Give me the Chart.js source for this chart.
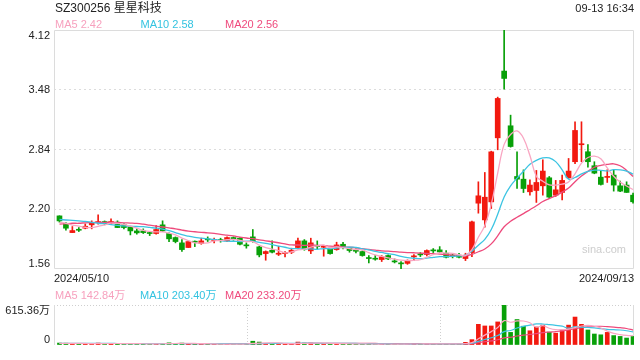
<!DOCTYPE html>
<html><head><meta charset="utf-8">
<script src="https://cdn.jsdelivr.net/npm/chart.js@4/dist/chart.umd.min.js"></script>
<style>
html,body{margin:0;padding:0;background:#fff;width:640px;height:360px;overflow:hidden;font-family:"Liberation Sans",Arial,"Noto Sans CJK SC",sans-serif;}
canvas{position:absolute;left:0;}
.t{position:absolute;white-space:nowrap;font-size:11px;line-height:14px;}
</style></head><body>
<canvas id="k" width="640" height="285" style="top:0;width:640px;height:285px"></canvas>
<canvas id="v" width="640" height="75" style="top:285px;width:640px;height:75px"></canvas>
<div class="t" style="left:55px;top:1px;font-size:12px;color:#222">SZ300256 星星科技</div>
<div class="t" style="right:6px;top:1px;color:#222">09-13 16:34</div>
<div class="t" style="left:55px;top:17px;color:#f7a1be">MA5 2.42</div>
<div class="t" style="left:140.5px;top:17px;color:#33c3e0">MA10 2.58</div>
<div class="t" style="left:225px;top:17px;color:#ef4a7d">MA20 2.56</div>
<div class="t" style="left:55px;top:288px;color:#f7a1be">MA5 142.84万</div>
<div class="t" style="left:140px;top:288px;color:#33c3e0">MA10 203.40万</div>
<div class="t" style="left:225px;top:288px;color:#ef4a7d">MA20 233.20万</div>
<div class="t" style="left:582px;top:242px;color:#cdcdcd">sina.com</div>
<script>
// ---- data (trading days 2024/05/10 .. 2024/09/13) ----
const dateLabels = ['2024/05/10', '2024/09/13'];
const yTicks = [1.56, 2.20, 2.84, 3.48, 4.12];
const yTickLabels = ['1.56', '2.20', '2.84', '3.48', '4.12'];
const volTicks = [0, 615.36];
const volTickLabels = ['0', '615.36万'];

const opens = [2.129,2.050,1.950,1.983,1.997,2.033,2.054,2.068,2.050,2.061,
2.033,2.011,1.968,1.968,1.947,1.940,2.033,1.940,1.897,1.840,
1.790,1.854,1.833,1.879,1.865,1.872,1.861,1.897,1.890,1.815,
1.904,1.797,1.725,1.761,1.718,1.725,1.740,1.790,1.861,1.754,
1.808,1.793,1.783,1.768,1.825,1.783,1.758,1.747,1.679,1.672,
1.661,1.704,1.643,1.622,1.620,1.690,1.718,1.715,1.761,1.765,
1.729,1.704,1.708,1.672,1.736,2.265,2.086,2.279,2.965,3.680,
3.094,2.551,2.522,2.387,2.401,2.451,2.537,2.351,2.380,2.537,
2.709,2.891,2.816,2.666,2.544,2.541,2.566,2.451,2.459,2.351];
const highs = [2.130,2.058,2.015,2.004,2.043,2.076,2.140,2.075,2.097,2.076,
2.047,2.018,1.990,1.990,1.961,2.025,2.076,1.947,1.904,1.875,
1.854,1.861,1.890,1.904,1.890,1.890,1.904,1.904,1.897,1.840,
1.983,1.804,1.754,1.861,1.804,1.747,1.783,1.890,1.875,1.890,
1.861,1.811,1.790,1.847,1.847,1.790,1.775,1.754,1.704,1.704,
1.704,1.711,1.668,1.640,1.658,1.715,1.736,1.765,1.779,1.800,
1.758,1.722,1.729,1.729,2.072,2.494,2.594,2.822,3.401,4.120,
3.208,2.815,2.622,2.516,2.616,2.730,2.551,2.509,2.566,2.744,
3.137,3.137,2.894,2.709,2.616,2.623,2.623,2.501,2.494,2.373];
const lows = [2.061,1.975,1.950,1.961,1.990,1.990,2.040,2.033,2.040,2.004,
1.990,1.925,1.933,1.940,1.918,1.933,1.961,1.854,1.840,1.747,
1.790,1.800,1.825,1.854,1.840,1.847,1.854,1.868,1.818,1.783,
1.847,1.690,1.654,1.733,1.704,1.690,1.725,1.775,1.761,1.725,
1.775,1.697,1.718,1.761,1.775,1.740,1.733,1.697,1.625,1.654,
1.640,1.661,1.625,1.560,1.610,1.650,1.693,1.700,1.736,1.736,
1.679,1.679,1.679,1.650,1.693,2.158,2.008,2.208,2.837,3.487,
2.865,2.422,2.379,2.351,2.273,2.351,2.316,2.337,2.301,2.530,
2.687,2.709,2.651,2.580,2.459,2.487,2.394,2.387,2.380,2.266];
const closes = [2.075,1.997,1.972,1.975,2.018,2.054,2.068,2.047,2.068,2.004,
2.004,1.968,1.947,1.950,1.940,1.983,1.968,1.883,1.854,1.768,
1.854,1.847,1.861,1.872,1.875,1.865,1.897,1.875,1.825,1.808,
1.861,1.711,1.747,1.740,1.729,1.736,1.761,1.861,1.775,1.840,
1.800,1.800,1.725,1.818,1.790,1.758,1.750,1.704,1.672,1.665,
1.690,1.668,1.636,1.615,1.648,1.697,1.711,1.758,1.754,1.743,
1.686,1.697,1.686,1.708,2.065,2.344,2.329,2.815,3.387,3.601,
2.872,2.522,2.422,2.459,2.487,2.609,2.330,2.408,2.509,2.609,
3.044,2.898,2.709,2.587,2.466,2.548,2.459,2.394,2.380,2.280];

const ma5 = [2.06,2.05,2.03,2.02,2.007,2.003,2.017,2.032,2.051,2.048,
2.038,2.018,1.998,1.975,1.962,1.958,1.958,1.945,1.926,1.891,
1.865,1.841,1.837,1.840,1.862,1.864,1.874,1.877,1.867,1.854,
1.853,1.816,1.790,1.773,1.758,1.733,1.743,1.765,1.772,1.795,
1.807,1.815,1.788,1.797,1.787,1.778,1.768,1.764,1.735,1.710,
1.696,1.680,1.666,1.655,1.651,1.653,1.661,1.686,1.714,1.733,
1.730,1.728,1.713,1.704,1.768,1.900,2.026,2.252,2.588,2.895,
3.001,3.039,2.961,2.775,2.552,2.500,2.461,2.459,2.469,2.493,
2.580,2.694,2.754,2.769,2.741,2.642,2.554,2.491,2.449,2.412];
const ma10 = [2.09,2.085,2.08,2.075,2.07,2.06,2.05,2.045,2.035,2.028,
2.021,2.018,2.015,2.013,2.005,1.998,1.988,1.972,1.950,1.927,
1.912,1.899,1.891,1.883,1.877,1.865,1.858,1.857,1.854,1.858,
1.859,1.845,1.834,1.820,1.806,1.793,1.779,1.778,1.773,1.776,
1.770,1.779,1.777,1.785,1.791,1.793,1.792,1.776,1.766,1.748,
1.737,1.724,1.715,1.695,1.681,1.675,1.671,1.676,1.684,1.692,
1.692,1.695,1.700,1.709,1.751,1.815,1.877,1.983,2.146,2.332,
2.450,2.533,2.607,2.682,2.724,2.750,2.750,2.710,2.622,2.523,
2.540,2.578,2.606,2.619,2.617,2.611,2.624,2.622,2.609,2.577];
const ma20 = [2.04,2.045,2.05,2.05,2.055,2.057,2.06,2.06,2.06,2.058,
2.055,2.052,2.048,2.04,2.03,2.02,2.01,2.00,1.99,1.977,
1.966,1.959,1.953,1.948,1.941,1.931,1.923,1.914,1.902,1.892,
1.885,1.872,1.862,1.852,1.841,1.829,1.818,1.817,1.813,1.817,
1.814,1.812,1.805,1.802,1.798,1.793,1.786,1.777,1.769,1.762,
1.754,1.751,1.746,1.740,1.736,1.734,1.731,1.726,1.725,1.720,
1.714,1.709,1.707,1.702,1.716,1.745,1.774,1.829,1.915,2.012,
2.071,2.114,2.153,2.195,2.237,2.283,2.314,2.346,2.384,2.427,
2.495,2.555,2.606,2.650,2.670,2.681,2.687,2.666,2.616,2.550];

// volume (万股)
const volumes = [30,28,22,18,20,24,30,20,22,20,
18,24,18,16,14,22,26,33,20,30,
24,18,16,14,14,12,18,12,18,16,
58,45,26,24,18,14,18,45,30,32,
22,22,20,22,18,14,12,18,16,12,
16,14,12,16,16,18,14,20,14,18,
20,12,25,41,83,318,293,293,355,615.36,
194,392,289,219,277,306,198,182,223,306,
430,318,231,169,157,194,145,132,107,132];
const volMa5 = [25,24,24,24,23.6,22.4,22.8,22.4,23.2,23.2,
22,20.8,20.4,19.2,18,18.8,19.2,22.2,23,26.2,
26.6,25,21.6,20.4,17.2,14.8,14.8,14,14.8,15.2,
24.4,29.8,32.6,33.8,34.2,25.4,20,23.8,25,27.8,
29.4,30.2,25.2,23.6,20.8,19.2,17.2,16.8,15.6,14.4,
14.8,15.2,14,14,14.8,15.2,15.2,16.8,16.4,16.8,
17.2,16.8,17.8,23.2,36.2,95.8,152,205.6,268.4,374.8,
350,369.8,369,341.8,274.2,296.6,257.8,236.4,237.2,243,
267.8,291.8,301.6,290.8,261,213.8,179.2,159.4,147,142];
const volMa10 = [24,24,24,24,24,24,24,23.5,23.5,23.4,
22.2,21.8,21.4,21.2,20.6,20.4,20,21.3,21.1,22.1,
22.7,22.1,21.9,21.7,21.7,20.7,19.9,17.8,17.6,16.2,
19.6,22.3,23.3,24.3,24.7,24.9,24.9,28.2,29.4,31,
27.4,25.1,24.5,24.3,24.3,24.3,23.7,21,19.6,17.6,
17,16.2,15.4,14.8,14.6,15,15.2,15.4,15.2,15.8,
16.2,16,17.3,19.8,26.5,56.5,84.4,111.7,145.8,205.5,
222.9,260.9,287.3,305.1,324.5,323.3,313.8,302.7,289.5,258.6,
282.2,274.8,269,264,252,240.8,235.5,230.5,218.9,201.5];
const volMa20 = [23,23,23,23,23,23,23,23,23,23,
23,23,23,23,23,23,23,23,23,22.75,
22.45,21.95,21.65,21.45,21.15,20.55,19.95,19.55,19.35,19.15,
21.15,22.2,22.6,23,23.2,22.8,22.4,23,23.5,23.6,
23.5,23.7,23.9,24.3,24.5,24.6,24.3,24.6,24.5,24.3,
22.2,20.65,19.95,19.55,19.45,19.65,19.45,18.2,17.4,16.7,
16.6,16.1,16.35,17.3,20.55,35.75,49.8,63.55,80.5,110.65,
119.55,138.45,152.3,162.45,175.5,189.9,199.1,207.2,217.65,232.05,
252.55,267.85,278.15,284.55,288.25,282.05,274.65,266.6,254.2,230.05];

// ---- styling ----
const FONT = '"Liberation Sans", Arial, "Noto Sans CJK SC", sans-serif';
Chart.defaults.font.family = FONT;
Chart.defaults.color = '#222';
const RED = '#f2190f', GREEN = '#08a008';
const C5 = '#f9a6c2', C10 = '#3cc4e2', C20 = '#ee4a7c';
const X_MIN = -0.85, X_MAX = closes.length - 1 + 0.15;
const idx = closes.map((_, i) => i);
const candleColors = idx.map(i => closes[i] >= opens[i] ? RED : GREEN);
const pts = arr => arr.map((v, i) => ({x: i, y: v}));
const lineDs = (arr, color, w) => ({type: 'line', data: pts(arr), borderColor: color, borderWidth: w,
  pointRadius: 0, tension: 0.4, fill: false, order: 0});

const framePlugin = {
  id: 'frame',
  beforeDatasetsDraw(chart, args, opts) {
    const {ctx, chartArea: a} = chart;
    ctx.save();
    ctx.strokeStyle = '#dcdcdc';
    ctx.lineWidth = 1;
    ctx.beginPath();
    if (opts.full) {
      ctx.rect(a.left + 0.5, a.top + 0.5, a.right - a.left - 1, a.bottom - a.top - 1);
    } else {
      ctx.moveTo(a.left + 0.5, a.top); ctx.lineTo(a.left + 0.5, a.bottom);
      ctx.moveTo(a.right - 0.5, a.top); ctx.lineTo(a.right - 0.5, a.bottom);
    }
    ctx.stroke();
    ctx.restore();
  }
};

const edgeLabel = (labels) => (v, i, t) =>
  i === 0 ? [labels[i], ''] : (i === t.length - 1 ? ['', labels[i]] : labels[i]);

new Chart(document.getElementById('k'), {
  type: 'bar',
  data: {
    datasets: [
      lineDs(ma5, C5, 1.3),
      lineDs(ma10, C10, 1.3),
      lineDs(ma20, C20, 1.3),
      {type: 'bar', data: idx.map(i => ({x: i, y: [opens[i], closes[i]]})), backgroundColor: candleColors,
        barThickness: 5, minBarLength: 1, grouped: false, borderWidth: 0, order: 1},
      {type: 'bar', data: idx.map(i => ({x: i, y: [lows[i], highs[i]]})), backgroundColor: candleColors,
        barThickness: 1, minBarLength: 1, grouped: false, borderWidth: 0, order: 2}
    ]
  },
  options: {
    responsive: false, animation: false, devicePixelRatio: 1,
    layout: {padding: {top: 30, right: 6, left: 0, bottom: 0}},
    plugins: {legend: {display: false}, tooltip: {enabled: false}, frame: {full: true}},
    scales: {
      x: {type: 'linear', min: X_MIN, max: X_MAX, offset: false,
        afterBuildTicks: s => { s.ticks = [{value: X_MIN}, {value: X_MAX}]; },
        afterFit: s => { s.height = 16; },
        ticks: {align: 'inner', autoSkip: false, maxRotation: 0, padding: 3, color: '#222',
          font: {size: 11}, callback: (v, i) => dateLabels[i]},
        grid: {display: false, offset: false, drawTicks: false, tickLength: 0},
        border: {display: false}},
      y: {type: 'linear', min: yTicks[0], max: yTicks[yTicks.length - 1],
        afterBuildTicks: s => { s.ticks = yTicks.map(v => ({value: v})); },
        afterFit: s => { s.width = 54; },
        ticks: {padding: 4, color: '#222', autoSkip: false, font: {size: 11, lineHeight: 1},
          callback: edgeLabel(yTickLabels)},
        grid: {color: c => (c.index > 0 && c.index < yTicks.length - 1) ? '#dcdcdc' : 'rgba(0,0,0,0)',
          drawTicks: false, tickLength: 0, lineWidth: 1},
        border: {display: false, dash: [2, 3]}}
    }
  },
  plugins: [framePlugin]
});

new Chart(document.getElementById('v'), {
  type: 'bar',
  data: {
    datasets: [
      lineDs(volMa5, C5, 1.2),
      lineDs(volMa10, C10, 1.2),
      lineDs(volMa20, C20, 1.2),
      {type: 'bar', data: pts(volumes), backgroundColor: candleColors, barThickness: 4,
        minBarLength: 1, grouped: false, borderWidth: 0, order: 1}
    ]
  },
  options: {
    responsive: false, animation: false, devicePixelRatio: 1,
    layout: {padding: {top: 20, right: 6, left: 0, bottom: 5}},
    plugins: {legend: {display: false}, tooltip: {enabled: false}, frame: {full: false}},
    scales: {
      x: {type: 'linear', min: X_MIN, max: X_MAX, offset: false,
        afterBuildTicks: s => { const sp = X_MAX - X_MIN; s.ticks = [{value: X_MIN + sp / 3}, {value: X_MIN + 2 * sp / 3}]; },
        afterFit: s => { s.height = 0; },
        ticks: {display: false},
        grid: {color: '#cfcfcf', offset: false, drawTicks: false, tickLength: 0, lineWidth: 1},
        border: {display: false, dash: [1, 2]}},
      y: {type: 'linear', min: volTicks[0], max: volTicks[volTicks.length - 1],
        afterBuildTicks: s => { s.ticks = volTicks.map(v => ({value: v})); },
        afterFit: s => { s.width = 54; },
        ticks: {padding: 4, color: '#222', autoSkip: false, font: {size: 11, lineHeight: 1},
          callback: edgeLabel(volTickLabels)},
        grid: {color: c => c.index === volTicks.length - 1 ? '#cfcfcf' : 'rgba(0,0,0,0)',
          drawTicks: false, tickLength: 0, lineWidth: 1},
        border: {display: false, dash: [1, 2]}}
    }
  },
  plugins: [framePlugin]
});
</script>
</body></html>
